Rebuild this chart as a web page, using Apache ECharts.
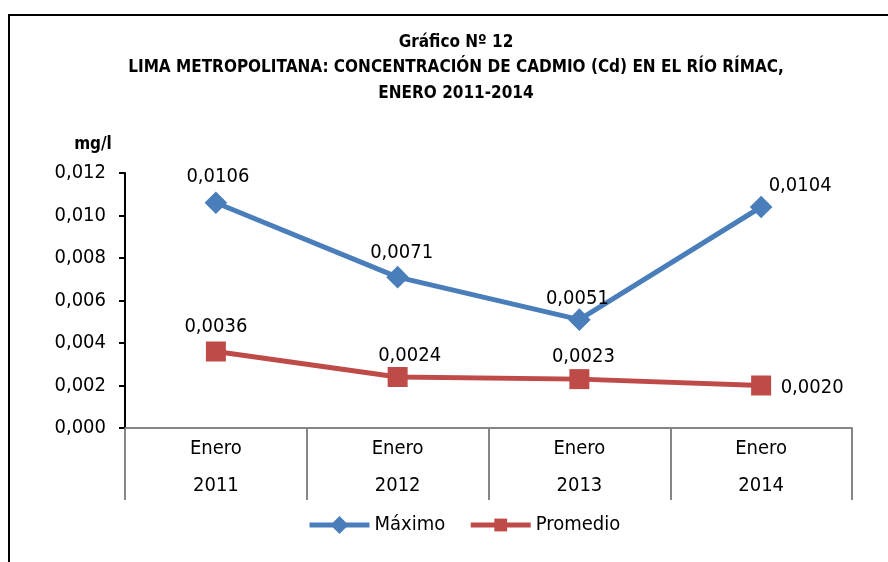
<!DOCTYPE html>
<html>
<head>
<meta charset="utf-8">
<script src="https://cdn.jsdelivr.net/npm/echarts@6/dist/echarts.min.js"></script>
<style>
html, body { margin: 0; padding: 0; background: #fff; }
#chart { width: 888px; height: 562px; }
</style>
</head>
<body>
<div id="chart"></div>
<script>
var categories = ['Enero\n2011', 'Enero\n2012', 'Enero\n2013', 'Enero\n2014'];
var maximo = [0.0106, 0.0071, 0.0051, 0.0104];
var promedio = [0.0036, 0.0024, 0.0023, 0.0020];
var yTicks = { min: 0, max: 0.012, interval: 0.002 };

var FONT = '"Liberation Sans Narrow", "DejaVu Sans Condensed", sans-serif';

// desplazamientos de las etiquetas de datos
var offMax = [[2, 0], [4, 2], [-2, 5], [39, 5]];
var offProm = [[0, 0], [12, 4], [4, 3], [51, 27]];

function coma(v, d) {
    return v.toFixed(d).replace('.', ',');
}

function buildData(values, offs) {
    return values.map(function (v, i) {
        return { value: v, label: { offset: offs[i] } };
    });
}

var chart = echarts.init(document.getElementById('chart'));
var option = {
    backgroundColor: '#fff',
    animation: false,
    graphic: [
        { type: 'rect', shape: { x: 9, y: 15, width: 900, height: 600 },
          style: { fill: 'none', stroke: '#000', lineWidth: 2 } },
        { type: 'text', x: 456, y: 43, style: { text: 'Gráfico Nº 12', font: 'bold 17px ' + FONT, fill: '#000', align: 'center', verticalAlign: 'middle' } },
        { type: 'text', x: 456, y: 68, style: { text: 'LIMA METROPOLITANA: CONCENTRACIÓN DE CADMIO (Cd) EN EL RÍO RÍMAC,', font: 'bold 17px ' + FONT, fill: '#000', align: 'center', verticalAlign: 'middle' } },
        { type: 'text', x: 456, y: 94, style: { text: 'ENERO 2011-2014', font: 'bold 17px ' + FONT, fill: '#000', align: 'center', verticalAlign: 'middle' } },
        { type: 'text', x: 93, y: 145, style: { text: 'mg/l', font: 'bold 17px ' + FONT, fill: '#000', align: 'center', verticalAlign: 'middle' } }
    ],
    grid: { left: 125, right: 36, top: 173, bottom: 134 },
    legend: {
        left: 302, top: 510,
        itemWidth: 60, itemHeight: 16, itemGap: 23,
        lineStyle: { width: 5 },
        textStyle: { fontFamily: FONT, fontSize: 20, color: '#000' },
        data: ['Máximo', 'Promedio']
    },
    xAxis: {
        type: 'category',
        data: categories,
        boundaryGap: true,
        axisLine: { lineStyle: { color: '#868686', width: 2 } },
        axisTick: { show: true, length: 72, interval: 0, lineStyle: { color: '#868686', width: 2 } },
        axisLabel: { fontFamily: FONT, fontSize: 20, color: '#000', lineHeight: 37, margin: 2, interval: 0 }
    },
    yAxis: {
        type: 'value',
        min: yTicks.min, max: yTicks.max, interval: yTicks.interval,
        axisLine: { show: true, lineStyle: { color: '#000', width: 2 } },
        axisTick: { show: true, length: 6, lineStyle: { color: '#000', width: 2 } },
        splitLine: { show: false },
        axisLabel: {
            fontFamily: FONT, fontSize: 20, color: '#000', margin: 19,
            formatter: function (v) { return coma(v, 3); }
        }
    },
    series: [{
        name: 'Máximo',
        type: 'line',
        data: buildData(maximo, offMax),
        symbol: 'rect', symbolSize: 16, symbolRotate: 45,
        lineStyle: { color: '#4A7EBB', width: 5 },
        itemStyle: { color: '#4A7EBB' },
        label: {
            show: true, position: 'top', fontFamily: FONT, fontSize: 20, color: '#000',
            formatter: function (p) { return coma(p.value, 4); }
        }
    }, {
        name: 'Promedio',
        type: 'line',
        data: buildData(promedio, offProm),
        symbol: 'rect', symbolSize: 20,
        lineStyle: { color: '#BE4B48', width: 5 },
        itemStyle: { color: '#BE4B48' },
        label: {
            show: true, position: 'top', fontFamily: FONT, fontSize: 20, color: '#000',
            formatter: function (p) { return coma(p.value, 4); }
        }
    }]
};
chart.setOption(option);
</script>
</body>
</html>
